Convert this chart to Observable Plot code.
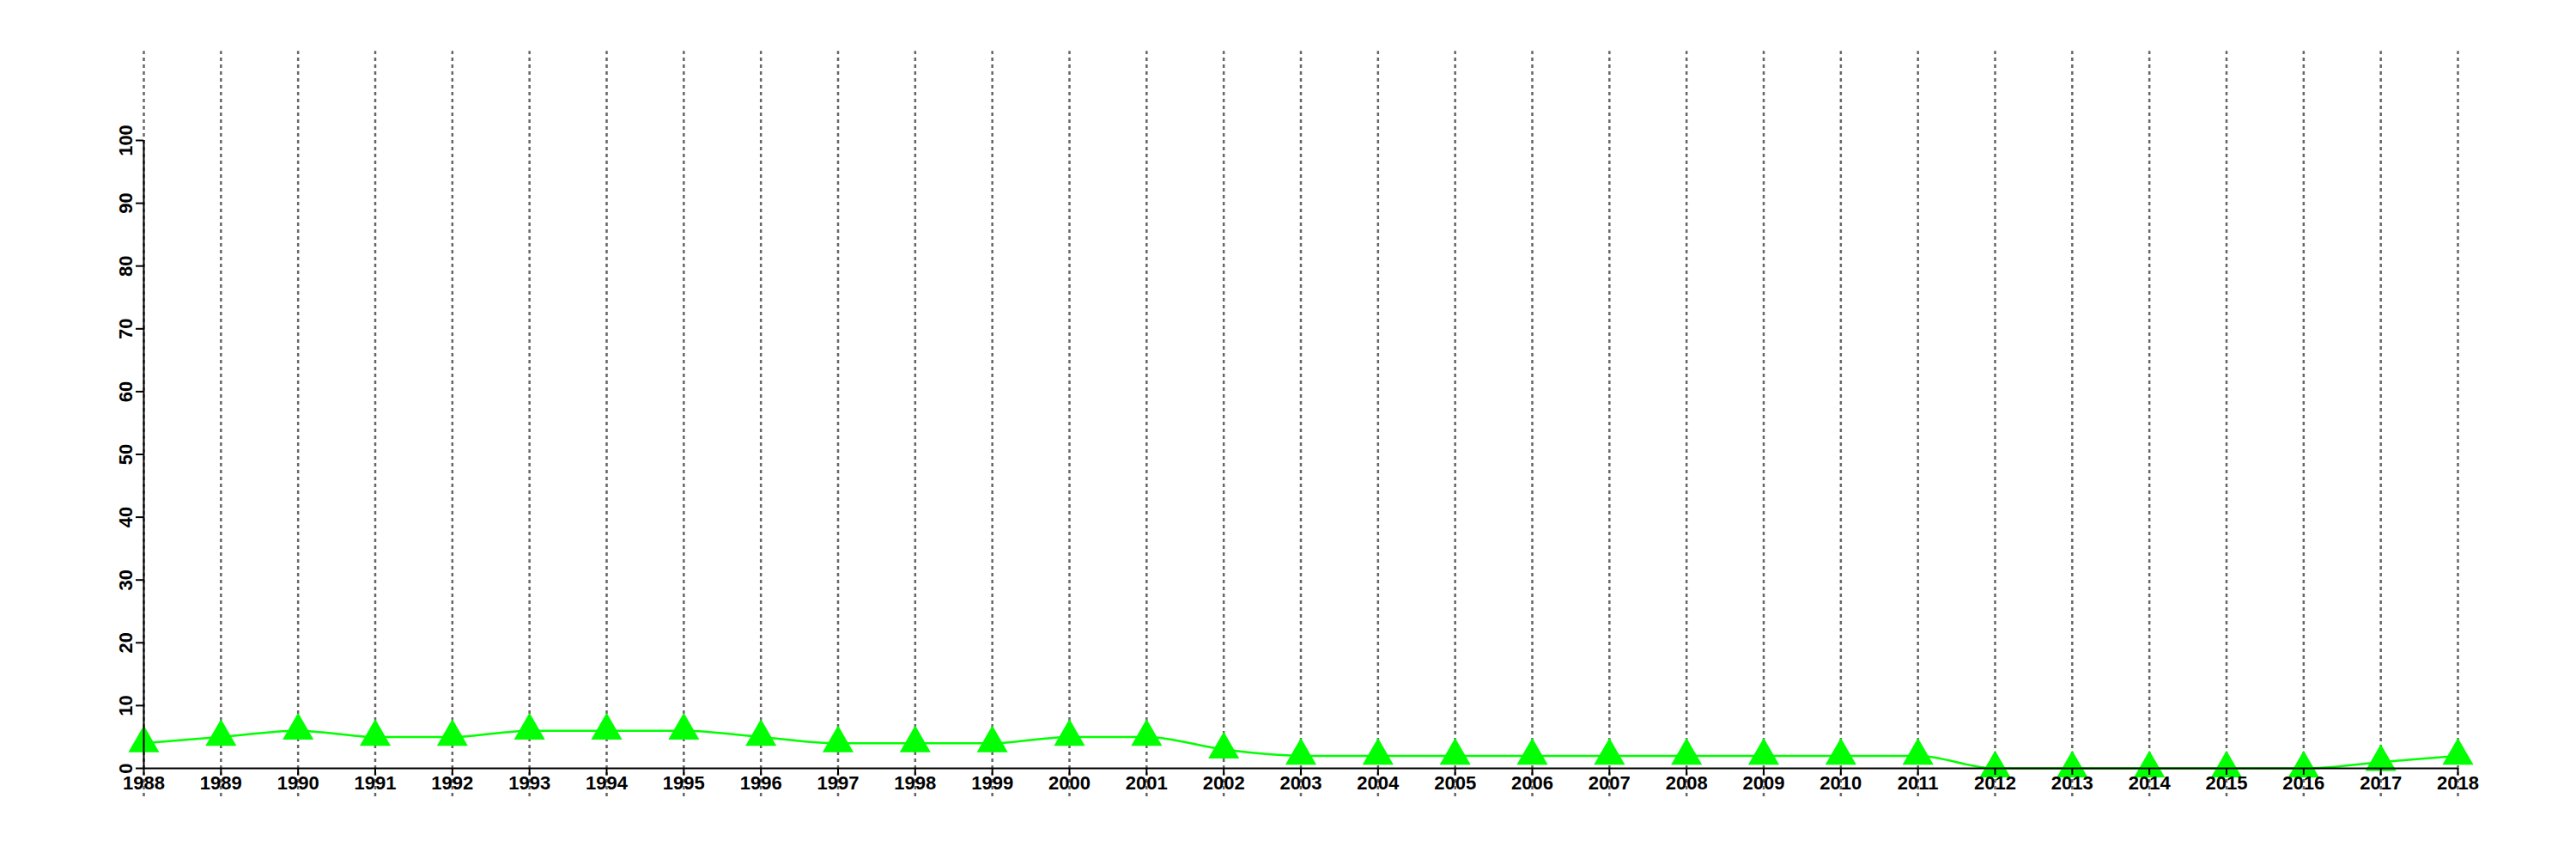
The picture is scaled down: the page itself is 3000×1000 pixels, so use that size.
<!DOCTYPE html>
<html>
<head>
<meta charset="utf-8">
<script src="https://cdn.jsdelivr.net/npm/d3@7"></script>
<script src="https://cdn.jsdelivr.net/npm/@observablehq/plot@0.6"></script>
<style>
  html, body { margin: 0; padding: 0; background: #fff; }
  #chart svg { display: block; }
</style>
</head>
<body>
<div id="chart"></div>
<script>
const years = [1988, 1989, 1990, 1991, 1992, 1993, 1994, 1995, 1996, 1997, 1998, 1999, 2000, 2001, 2002, 2003, 2004, 2005, 2006, 2007, 2008, 2009, 2010, 2011, 2012, 2013, 2014, 2015, 2016, 2017, 2018];
const values = [4, 5, 6, 5, 5, 6, 6, 6, 5, 4, 4, 4, 5, 5, 3, 2, 2, 2, 2, 2, 2, 2, 2, 2, 0, 0, 0, 0, 0, 1, 2];
const yTicks = [0, 10, 20, 30, 40, 50, 60, 70, 80, 90, 100];

const data = years.map((year, i) => ({year, value: values[i]}));

const chart = Plot.plot({
  width: 3000,
  height: 1000,
  marginLeft: 167,
  marginRight: 138,
  marginTop: 163,
  marginBottom: 106,
  style: {fontFamily: "'Liberation Sans', Arial, sans-serif", fontWeight: "bold", fontSize: "22px", background: "#fff"},
  x: {domain: [years[0], years[years.length - 1]], type: "linear", label: null},
  y: {domain: [0, 100], label: null},
  marks: [
    Plot.ruleX(years, {x: d => d, y1: -4.5, y2: 114.2, stroke: "#666", strokeWidth: 2.5, strokeDasharray: "4,4", clip: false}),
    Plot.line(data, {x: "year", y: "value", stroke: "#00ff00", strokeWidth: 2.5, curve: "monotone-x"}),
    Plot.dot(data, {x: "year", y: "value", symbol: "triangle", r: 13.4, fill: "#00ff00", stroke: "none"}),
    Plot.axisX({ticks: years, tickFormat: d => String(d), label: null, tickSize: 8, tickPadding: 1, strokeWidth: 2, fontSize: 22, fontWeight: "bold", fill: "#000"}),
    Plot.axisY({ticks: yTicks, label: null, tickSize: 9, tickPadding: 5, tickRotate: -90, strokeWidth: 2, fontSize: 22, fontWeight: "bold", fill: "#000"}),
    Plot.ruleY([0], {stroke: "#000", strokeWidth: 2}),
    Plot.ruleX([years[0]], {stroke: "#000", strokeWidth: 2})
  ]
});
document.getElementById("chart").appendChild(chart);
</script>
</body>
</html>
